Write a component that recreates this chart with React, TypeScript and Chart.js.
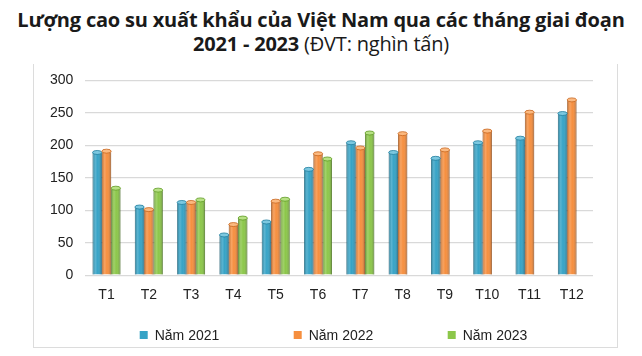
import React, { useEffect, useRef } from "react";
import { Chart, registerables } from "chart.js";

Chart.register(...registerables);

const categories = ["T1", "T2", "T3", "T4", "T5", "T6", "T7", "T8", "T9", "T10", "T11", "T12"];
const seriesNames = ["Năm 2021", "Năm 2022", "Năm 2023"];
const values2021 = [189, 105, 112, 62, 82, 163, 204, 189, 180, 204, 211, 249];
const values2022 = [191, 101, 112, 78, 114, 187, 196, 218, 193, 222, 251, 270];
const values2023 = [134, 131, 116, 88, 117, 179, 219, null, null, null, null, null];
const yTicks = [0, 50, 100, 150, 200, 250, 300];

const colors = ["#36a3c6", "#f68f3f", "#8cc74a"];
const darkColors = ["#1f7e9e", "#c8651c", "#5f9a25"];
const lightColors = ["#7cc8e0", "#fbb980", "#b7e184"];

const cylinderPlugin = {
  id: "cylinder",
  afterDatasetsDraw(chart: any) {
    const ctx = chart.ctx;
    chart.data.datasets.forEach((ds: any, di: number) => {
      const meta = chart.getDatasetMeta(di);
      meta.data.forEach((bar: any, i: number) => {
        if (ds.data[i] == null) return;
        const { x, y, base, width } = bar.getProps(["x", "y", "base", "width"], true);
        const l = x - width / 2;
        const g = ctx.createLinearGradient(l, 0, l + width, 0);
        g.addColorStop(0, "rgba(0,0,0,0.22)");
        g.addColorStop(0.3, "rgba(255,255,255,0.18)");
        g.addColorStop(0.55, "rgba(255,255,255,0)");
        g.addColorStop(1, "rgba(0,0,0,0.28)");
        ctx.save();
        ctx.fillStyle = g;
        ctx.fillRect(l, y, width, base - y);
        ctx.beginPath();
        ctx.ellipse(x, y, width / 2, 2, 0, 0, Math.PI * 2);
        ctx.fillStyle = lightColors[di];
        ctx.fill();
        ctx.lineWidth = 0.8;
        ctx.strokeStyle = darkColors[di];
        ctx.stroke();
        ctx.restore();
      });
    });
  },
};

const legendPlugin = {
  id: "customLegend",
  afterDraw(chart: any) {
    const ctx = chart.ctx;
    ctx.save();
    ctx.font = "14px 'Liberation Sans', Arial, sans-serif";
    ctx.textBaseline = "middle";
    const step = 154;
    const box = 8;
    const gap = 7;
    const lastW = box + gap + ctx.measureText(seriesNames[seriesNames.length - 1]).width;
    const total = step * (seriesNames.length - 1) + lastW;
    let start = chart.width / 2 - total / 2 + 8;
    const y = chart.height - 12;
    chart.data.datasets.forEach((ds: any, i: number) => {
      const x0 = start + i * step;
      ctx.fillStyle = colors[i];
      ctx.fillRect(x0, y - box / 2, box, box);
      ctx.fillStyle = "#222";
      ctx.fillText(ds.label, x0 + box + gap, y + 1);
    });
    ctx.restore();
  },
};

function App() {
  const ref = useRef<HTMLCanvasElement>(null);
  useEffect(() => {
    if (!ref.current) return;
    const chart = new Chart(ref.current, {
      type: "bar",
      data: {
        labels: categories,
        datasets: [values2021, values2022, values2023].map((d, i) => ({
          label: seriesNames[i],
          data: d as any,
          backgroundColor: colors[i],
          borderColor: darkColors[i],
          borderWidth: 0.8,
          categoryPercentage: 0.66,
          barPercentage: 1,
        })),
      },
      options: {
        animation: false,
        responsive: false,
        maintainAspectRatio: false,
        layout: { padding: { left: 4, right: 24, top: 0, bottom: 31 } },
        plugins: {
          legend: { display: false },
          tooltip: { enabled: false },
        },
        scales: {
          x: {
            grid: { display: false, drawTicks: false },
            border: { display: false },
            ticks: {
              color: "#222",
              padding: 12,
              font: { family: "'Liberation Sans', Arial, sans-serif", size: 14 },
            },
          },
          y: {
            min: 0,
            max: 300,
            afterBuildTicks: (axis: any) => {
              axis.ticks = yTicks.map((v) => ({ value: v }));
            },
            grid: { color: "#d9d9d9", lineWidth: 1.2, drawTicks: false },
            border: { display: false },
            ticks: {
              color: "#222",
              padding: 12,
              font: { family: "'Liberation Sans', Arial, sans-serif", size: 14 },
            },
          },
        },
      },
      plugins: [cylinderPlugin, legendPlugin],
    });
    return () => chart.destroy();
  }, []);

  return (
    <div
      style={{
        position: "absolute",
        left: 0,
        top: 0,
        width: 642,
        height: 356,
        background: "#fff",
        overflow: "hidden",
      }}
    >
      <div
        style={{
          position: "absolute",
          left: 0,
          top: 8,
          width: 642,
          textAlign: "center",
          fontFamily: "'Open Sans', sans-serif",
          fontSize: 20,
          lineHeight: "24px",
          color: "#1a1a1a",
          letterSpacing: -0.2,
        }}
      >
        <div style={{ fontWeight: 700 }}>Lượng cao su xuất khẩu của Việt Nam qua các tháng giai đoạn</div>
        <div>
          <span style={{ fontWeight: 700 }}>2021 - 2023</span> <span style={{ fontWeight: 400 }}>(ĐVT: nghìn tấn)</span>
        </div>
      </div>
      <div
        style={{
          position: "absolute",
          left: 33,
          top: 64,
          width: 583,
          height: 283,
          borderLeft: "1px solid #dcdcdc",
          borderRight: "1px solid #dcdcdc",
          borderBottom: "1px solid #dcdcdc",
        }}
      />
      <canvas
        ref={ref}
        width={583}
        height={287}
        style={{ display: "block", position: "absolute", left: 34, top: 60 }}
      />
    </div>
  );
}

export default App;
